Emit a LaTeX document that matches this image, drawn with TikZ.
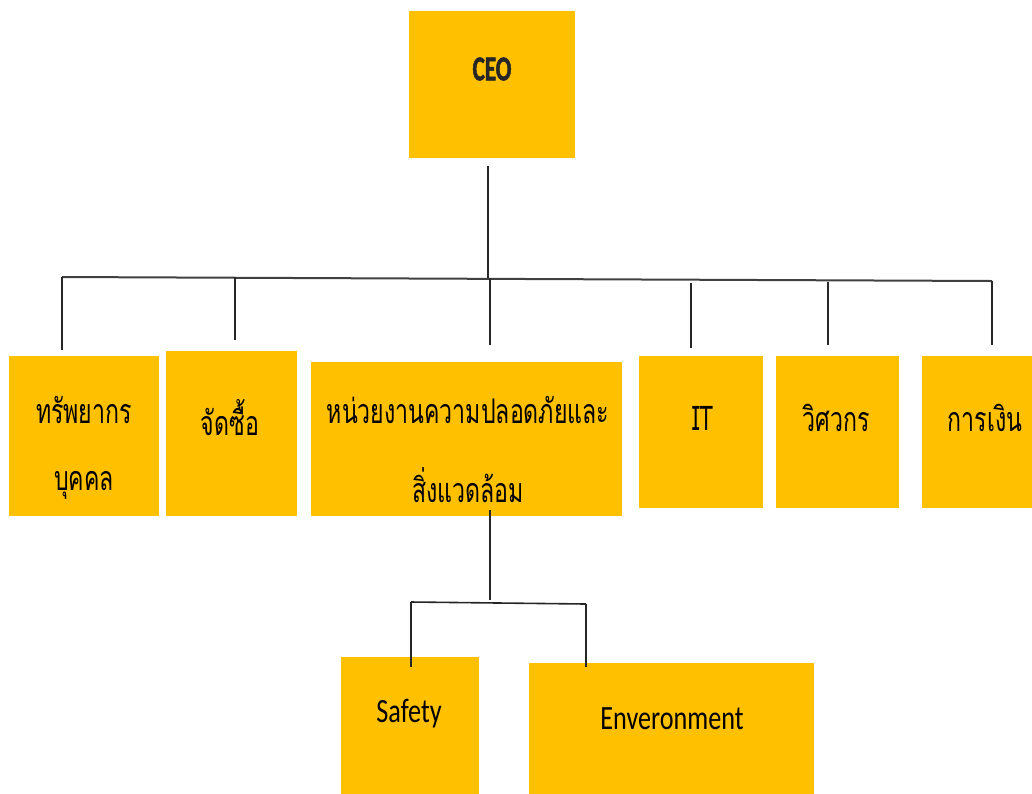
\documentclass[tikz,border=0pt]{standalone}
\usepackage{fontspec}
\setmainfont{Carlito}
\newfontfamily\thaifont[Script=Thai,FakeStretch=0.68]{Loma}
\newfontfamily\latinc[FakeStretch=0.77]{Carlito}
\newfontfamily\latinb[FakeStretch=0.66,FakeBold=1.5]{Carlito Bold}
\definecolor{gold}{HTML}{FFC000}
\tikzset{
  box/.style={rectangle, fill=gold, draw=none, inner sep=0pt},
  thai/.style={font=\thaifont\fontsize{34}{38}\selectfont, inner sep=0pt, text=black},
  lat/.style={font=\latinc\fontsize{34}{38}\selectfont, inner sep=0pt, text=black},
  conn/.style={line width=1.6pt, draw=black!85},
}
\begin{document}
\begin{tikzpicture}[x=1pt,y=-1pt]
\useasboundingbox (0,0) rectangle (1032,793);
\begin{scope}
\clip (0,0) rectangle (1032,793);
% boxes
\node[box, minimum width=166, minimum height=147] (ceo) at (492,84.5) {};
\node[box, minimum width=150, minimum height=160] (b1) at (84,436) {};
\node[box, minimum width=131, minimum height=165] (b2) at (231.5,433.5) {};
\node[box, minimum width=311, minimum height=154] (b3) at (466.5,439) {};
\node[box, minimum width=124, minimum height=152] (b4) at (701,432) {};
\node[box, minimum width=123, minimum height=152] (b5) at (837.5,432) {};
\node[box, minimum width=118, minimum height=152] (b6) at (981,432) {};
\node[box, minimum width=138, minimum height=143] (s1) at (410,728.5) {};
\node[box, minimum width=285, minimum height=137] (s2) at (671.5,731.5) {};
\end{scope}
% texts
\node[lat, font=\latinb\fontsize{35}{38}\selectfont, text=black!85] (tceo) at (492,69) {CEO};
\node[thai] (t1a) at (84,410) {ทรัพยากร};
\node[thai] (t1b) at (84,485) {บุคคล};
\node[thai] (t2) at (230,418) {จัดซื้อ};
\node[thai] (t3a) at (468,410) {หน่วยงานความปลอดภัยและ};
\node[thai] (t3b) at (468,485) {สิ่งแวดล้อม};
\node[thai] (t4) at (703,418) {IT};
\node[thai] (t5) at (836,418) {วิศวกร};
\node[thai] (t6) at (985,418) {การเงิน};
\node[lat] (ts1) at (409,714) {Safety};
\node[lat] (ts2) at (672,719) {Enveronment};
% connectors
\coordinate (bus0) at (488,278);
\coordinate (busL) at (62,277);
\coordinate (busR) at (992,281);
\coordinate (d2) at (235,277);
\coordinate (d3) at (490,278);
\coordinate (d4) at (691,283);
\coordinate (d5) at (828,282);
\draw[conn] ([xshift=-4, yshift=-8]ceo.south) -- (bus0);
\draw[conn, line width=2pt, draw=black!75] (busL) -- (busR);
\draw[conn] (busL) -- ([yshift=6]busL |- b1.north);
\draw[conn] (d2) -- ([yshift=11]d2 |- b2.north);
\draw[conn] (d3) -- ([yshift=17]d3 |- b3.north);
\draw[conn] (d4) -- ([yshift=8]d4 |- b4.north);
\draw[conn] (d5) -- ([yshift=11]d5 |- b5.north);
\draw[conn] (busR) -- ([yshift=11]busR |- b6.north);
% lower branch
\coordinate (l0) at (490,600);
\coordinate (lL) at (411,602);
\coordinate (lR) at (586,604);
\draw[conn] ([xshift=23.5, yshift=6]b3.south) -- (l0);
\draw[conn] (lL) -- (lR);
\draw[conn] (lL) -- ([yshift=-10]lL |- s1.north);
\draw[conn] (lR) -- ([yshift=-4]lR |- s2.north);
\end{tikzpicture}
\end{document}
